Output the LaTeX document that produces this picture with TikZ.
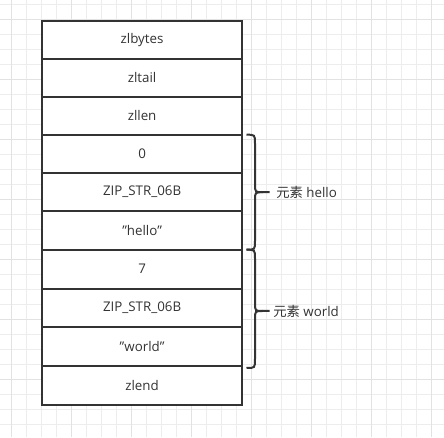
\documentclass[tikz,border=0pt]{standalone}
\usepackage{fontspec}
\setmainfont{Open Sans}
\newfontfamily\cjkf{Noto Sans CJK SC}
\begin{document}
\begin{tikzpicture}[x=0.75pt,y=-0.75pt,
  cell/.style={draw=boxc,line width=1.5pt,fill=white,minimum width=200.3*0.75pt,inner sep=0pt,font=\fontsize{10}{11}\selectfont,text=textc},
  brace/.style={draw=boxc,line width=1.5pt},
  lbl/.style={anchor=west,inner sep=0pt,font=\fontsize{10}{11}\selectfont,text=textc}]
\definecolor{boxc}{HTML}{333333}
\definecolor{textc}{HTML}{333333}
\definecolor{gminor}{HTML}{EDEDED}
\definecolor{gmajor}{HTML}{E2E2E2}
\useasboundingbox (0,0) rectangle (444,438);
\fill[white] (0,0) rectangle (444,438);
% grid
\foreach \k in {0,...,28} {
  \draw[gminor,line width=0.75pt] ({11.7+15*\k},0) -- ({11.7+15*\k},437);
  \draw[gminor,line width=0.75pt] (0,{5+15*\k}) -- (444,{5+15*\k});
}
\foreach \k in {0,...,7} {
  \draw[gmajor,line width=0.75pt] ({11.7+60*\k},0) -- ({11.7+60*\k},437);
}
\foreach \k in {0,...,6} {
  \draw[gmajor,line width=0.75pt] (0,{20+60*\k}) -- (444,{20+60*\k});
}
% cells
\def\cellrow#1#2#3#4{\node[cell,minimum height={(#3-#2)*0.75pt}] (#1) at (142.1,{(#2+#3)/2}) {#4};}
\cellrow{c1}{21}{59}{zlbytes}
\cellrow{c2}{59}{97}{zltail}
\cellrow{c3}{97}{134.7}{zllen}
\cellrow{c4}{134.7}{172.7}{0}
\cellrow{c5}{172.7}{210.7}{ZIP\_STR\_06B}
\cellrow{c6}{210.7}{249.7}{"hello"}
\cellrow{c7}{249.7}{288.7}{7}
\cellrow{c8}{288.7}{327}{ZIP\_STR\_06B}
\cellrow{c9}{327}{366}{"world"}
\cellrow{c10}{366}{404.7}{zlend}
% braces
\coordinate (b1t) at (246.5,134.7);
\coordinate (b1b) at (246.5,249.7);
\coordinate (b1m) at (269.5,192.2);
\draw[brace] (b1t) .. controls (255,134.7) .. (255,143.5) -- (255,184) .. controls (255,192.2) .. (263,192.2) -- (b1m);
\draw[brace] (b1b) .. controls (255,249.7) .. (255,241) -- (255,200.4) .. controls (255,192.2) .. (263,192.2);
\coordinate (b2t) at (246.5,249.7);
\coordinate (b2b) at (246.5,368);
\coordinate (b2m) at (269.5,311);
\draw[brace] (b2t) .. controls (255,249.7) .. (255,258.5) -- (255,302.8) .. controls (255,311) .. (263,311) -- (b2m);
\draw[brace] (b2b) .. controls (255,368) .. (255,359.2) -- (255,319.2) .. controls (255,311) .. (263,311);
\node[lbl] (l1) at (276,192.2) {{\cjkf 元素} hello};
\node[lbl] (l2) at (273,311) {{\cjkf 元素} world};
\end{tikzpicture}
\end{document}
